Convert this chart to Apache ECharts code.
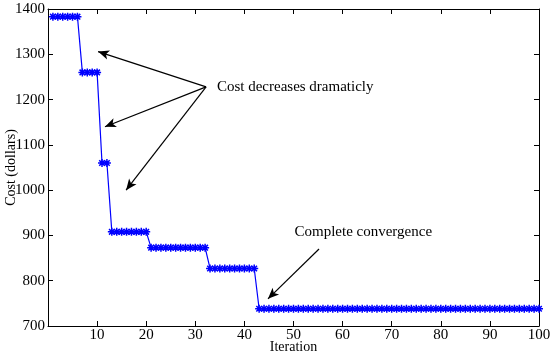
<!DOCTYPE html>
<html><head><meta charset="utf-8">
<script src="https://cdn.jsdelivr.net/npm/echarts@6/dist/echarts.min.js"></script>
<style>html,body{margin:0;padding:0;background:#fff}#c{width:550px;height:356px}</style>
</head><body><div id="c"></div>
<script>
const iterations = [];
for (let i = 1; i <= 100; i++) iterations.push(i);
const cost = [
  1383,1383,1383,1383,1383,1383,
  1260,1260,1260,1260,
  1060,1060,
  908,908,908,908,908,908,908,908,
  873,873,873,873,873,873,873,873,873,873,873,873,
  827,827,827,827,827,827,827,827,827,827,
  738,738,738,738,738,738,738,738,738,738,
  738,738,738,738,738,738,738,738,738,738,
  738,738,738,738,738,738,738,738,738,738,
  738,738,738,738,738,738,738,738,738,738,
  738,738,738,738,738,738,738,738,738,738,
  738,738,738,738,738,738,738,738
];
const xTicks = [10,20,30,40,50,60,70,80,90,100];
const yTicks = [700,800,900,1000,1100,1200,1300,1400];
const arrowSource1 = [32.2, 1228];
const arrowTips1 = [[10.2, 1306], [11.6, 1140], [15.9, 1000]];
const label1 = 'Cost decreases dramaticly';
const label1Pos = [34.4, 1228];
const arrowSource2 = [55.2, 870];
const arrowTip2 = [44.8, 760];
const label2 = 'Complete convergence';
const label2Pos = [50.2, 908];

const font = 'Liberation Serif';
const chart = echarts.init(document.getElementById('c'));
const star = 'path://M0 5H10M5 0V10M1.5 1.5L8.5 8.5M1.5 8.5L8.5 1.5';
const axisCommon = {
  axisLine: {show: true, onZero: false, lineStyle: {color: '#000', width: 1}},
  axisTick: {show: true, inside: true, length: 5, lineStyle: {color: '#000'}},
  splitLine: {show: false}
};
chart.setOption({
  animation: false,
  grid: {left: 48, right: 11, top: 9, bottom: 30, containLabel: false, outerBoundsMode: 'none'},
  xAxis: [
    Object.assign({type: 'value', min: 0, max: 100, interval: 10, name: 'Iteration',
      nameLocation: 'middle', nameGap: 14, nameMoveOverlap: false,
      nameTextStyle: {fontFamily: font, fontSize: 14, color: '#000'},
      axisLabel: {fontFamily: font, fontSize: 15, color: '#000', margin: 2,
        formatter: v => xTicks.includes(v) ? String(v) : ''}}, axisCommon),
    Object.assign({type: 'value', min: 0, max: 100, interval: 10, position: 'top',
      axisLabel: {show: false}}, axisCommon)
  ],
  yAxis: [
    Object.assign({type: 'value', min: 700, max: 1400, interval: 100, name: 'Cost (dollars)',
      nameLocation: 'middle', nameGap: 30, nameMoveOverlap: false,
      nameTextStyle: {fontFamily: font, fontSize: 14, color: '#000'},
      axisLabel: {fontFamily: font, fontSize: 15, color: '#000', margin: 3,
        formatter: v => yTicks.includes(v) ? String(v) : ''}}, axisCommon),
    Object.assign({type: 'value', min: 700, max: 1400, interval: 100, position: 'right',
      axisLabel: {show: false}}, axisCommon)
  ],
  series: [{
    type: 'line',
    data: iterations.map((x, i) => [x, cost[i]]),
    symbol: star,
    symbolSize: 8,
    showAllSymbol: true,
    lineStyle: {color: '#0000ff', width: 1.2},
    itemStyle: {color: '#0000ff', borderColor: '#0000ff', borderWidth: 1.5},
    markLine: {
      silent: true,
      symbol: ['none', 'arrow'],
      symbolSize: [7, 11],
      label: {show: false},
      lineStyle: {color: '#000', width: 1.2, type: 'solid'},
      data: arrowTips1.map(t => [{coord: arrowSource1}, {coord: t}])
        .concat([[{coord: arrowSource2}, {coord: arrowTip2}]])
    },
    markPoint: {
      silent: true,
      symbol: 'circle',
      symbolSize: 0,
      label: {show: true, position: 'right', distance: 0, color: '#000',
        fontFamily: font, fontSize: 15, formatter: p => p.name},
      data: [
        {name: label1, coord: label1Pos},
        {name: label2, coord: label2Pos}
      ]
    }
  }]
});
</script></body></html>
